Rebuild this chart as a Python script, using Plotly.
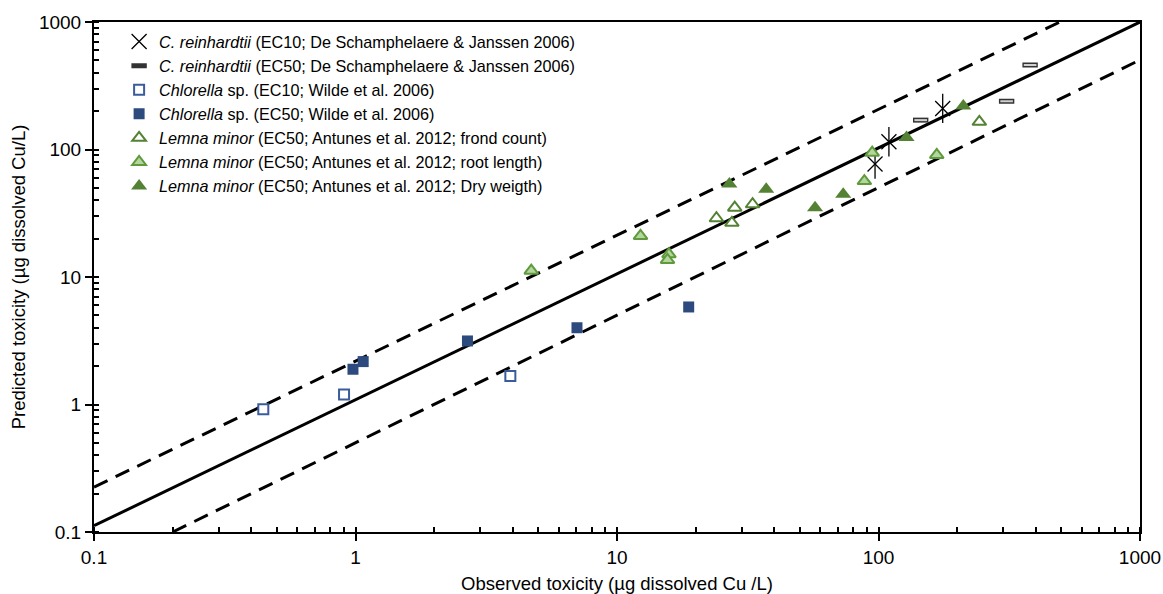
import plotly.graph_objects as go

# ---- data (observed, predicted) in µg dissolved Cu/L ----
crein_ec10_obs = [97.0, 109.6, 176.0]
crein_ec10_pred = [76.9, 115.0, 210.0]

crein_ec50_obs = [145.0, 309.0, 380.0]
crein_ec50_pred = [170.0, 239.0, 460.0]

chlor_ec10_obs = [0.444, 0.904, 3.91]
chlor_ec10_pred = [0.917, 1.20, 1.67]

chlor_ec50_obs = [0.978, 1.07, 2.68, 7.03, 18.8]
chlor_ec50_pred = [1.89, 2.17, 3.15, 4.00, 5.82]

lemna_frond_obs = [24.0, 28.2, 33.0, 27.5, 243.0]
lemna_frond_pred = [28.9, 35.0, 37.2, 26.6, 165.0]

lemna_root_obs = [4.70, 12.3, 15.8, 15.6, 88.3, 94.6, 167.0]
lemna_root_pred = [11.2, 21.0, 15.1, 13.6, 56.6, 94.4, 90.6]

lemna_dry_obs = [26.9, 37.2, 57.2, 73.3, 128.0, 211.0]
lemna_dry_pred = [53.6, 48.7, 35.0, 44.5, 124.0, 219.0]

# reference lines
one_to_one_x = [0.1, 1000]
one_to_one_y = [0.112, 1000]
upper_x = [0.1, 494]
upper_y = [0.225, 1000]
lower_x = [0.2, 1000]
lower_y = [0.1, 504]

tick_vals = [0.1, 1, 10, 100, 1000]
tick_text = ["0.1", "1", "10", "100", "1000"]

FONT = "Liberation Sans, Arial, sans-serif"

fig = go.Figure()

# lines
fig.add_trace(go.Scatter(x=one_to_one_x, y=one_to_one_y, mode="lines",
                         line=dict(color="black", width=3), showlegend=False, hoverinfo="skip"))
fig.add_trace(go.Scatter(x=upper_x, y=upper_y, mode="lines",
                         line=dict(color="black", width=3, dash="15px,9px"), showlegend=False, hoverinfo="skip"))
fig.add_trace(go.Scatter(x=lower_x, y=lower_y, mode="lines",
                         line=dict(color="black", width=3, dash="15px,9px"), showlegend=False, hoverinfo="skip"))

# C. reinhardtii EC10 (asterisk: x + vertical line)
fig.add_trace(go.Scatter(x=crein_ec10_obs, y=crein_ec10_pred, mode="markers",
                         name="<i>C. reinhardtii</i> (EC10; De Schamphelaere & Janssen 2006)",
                         legendgroup="c10",
                         marker=dict(symbol="x-thin-open", size=15, color="black",
                                     line=dict(color="black", width=1.3))))
fig.add_trace(go.Scatter(x=crein_ec10_obs, y=crein_ec10_pred, mode="markers",
                         legendgroup="c10", showlegend=False,
                         marker=dict(symbol="line-ns-open", size=21, color="black",
                                     line=dict(color="black", width=1.3))))

# C. reinhardtii EC50 (small hollow bar)
fig.add_trace(go.Scatter(x=crein_ec50_obs, y=crein_ec50_pred, mode="markers",
                         name="<i>C. reinhardtii</i> (EC50; De Schamphelaere & Janssen 2006)",
                         legendgroup="c50",
                         marker=dict(symbol="line-ew-open", size=11, color="#333333",
                                     line=dict(color="#333333", width=5))))
fig.add_trace(go.Scatter(x=crein_ec50_obs, y=crein_ec50_pred, mode="markers",
                         legendgroup="c50", showlegend=False,
                         marker=dict(symbol="line-ew-open", size=9, color="#d0d0d0",
                                     line=dict(color="#d0d0d0", width=2))))

# Chlorella
fig.add_trace(go.Scatter(x=chlor_ec10_obs, y=chlor_ec10_pred, mode="markers",
                         name="<i>Chlorella</i> sp. (EC10; Wilde et al. 2006)",
                         marker=dict(symbol="square", size=10, color="white",
                                     line=dict(color="#3b5c9c", width=2))))
fig.add_trace(go.Scatter(x=chlor_ec50_obs, y=chlor_ec50_pred, mode="markers",
                         name="<i>Chlorella</i> sp. (EC50; Wilde et al. 2006)",
                         marker=dict(symbol="square", size=11, color="#2c4a7e",
                                     line=dict(color="#2c4a7e", width=0))))

# Lemna minor
fig.add_trace(go.Scatter(x=lemna_frond_obs, y=lemna_frond_pred, mode="markers",
                         name="<i>Lemna minor</i> (EC50; Antunes et al. 2012; frond count)",
                         marker=dict(symbol="triangle-up", size=12, color="white",
                                     line=dict(color="#548235", width=2))))
fig.add_trace(go.Scatter(x=lemna_root_obs, y=lemna_root_pred, mode="markers",
                         name="<i>Lemna minor</i> (EC50; Antunes et al. 2012; root length)",
                         marker=dict(symbol="triangle-up", size=12, color="#b4d59e",
                                     line=dict(color="#5f9a3c", width=2))))
fig.add_trace(go.Scatter(x=lemna_dry_obs, y=lemna_dry_pred, mode="markers",
                         name="<i>Lemna minor</i> (EC50; Antunes et al. 2012; Dry weigth)",
                         marker=dict(symbol="triangle-up", size=14, color="#548235",
                                     line=dict(color="#548235", width=0))))

axis_common = dict(
    type="log", range=[-1, 3], automargin=False,
    tickvals=tick_vals, ticktext=tick_text,
    ticks="outside", ticklen=7, tickwidth=2, tickcolor="black",
    showline=True, linecolor="black", linewidth=2, mirror=True,
    showgrid=False, zeroline=False,
    tickfont=dict(family=FONT, size=19, color="black"),
    minor=dict(ticks="inside", ticklen=5, tickwidth=1.5, tickcolor="black",
               dtick="D1", showgrid=False),
)

fig.update_layout(
    width=1163, height=594,
    margin=dict(l=94, r=23, t=22, b=62),
    paper_bgcolor="white", plot_bgcolor="white",
    font=dict(family=FONT, size=18, color="black"),
    xaxis=dict(**axis_common,
               title=dict(text="Observed toxicity (µg dissolved Cu /L)",
                          font=dict(family=FONT, size=18.5, color="black"), standoff=10)),
    yaxis=dict(**axis_common,
               title=dict(text="Predicted toxicity (µg dissolved Cu/L)",
                          font=dict(family=FONT, size=18.5, color="black"), standoff=8)),
    legend=dict(x=0.024, y=0.995, xanchor="left", yanchor="top",
                bgcolor="rgba(0,0,0,0)", borderwidth=0,
                font=dict(family=FONT, size=16.2, color="black"),
                itemwidth=30, tracegroupgap=0),
    showlegend=True,
)

fig.write_html("out.html",
               config={"displayModeBar": False},
               post_script="document.body.style.margin='0';document.body.style.overflow='hidden';")
